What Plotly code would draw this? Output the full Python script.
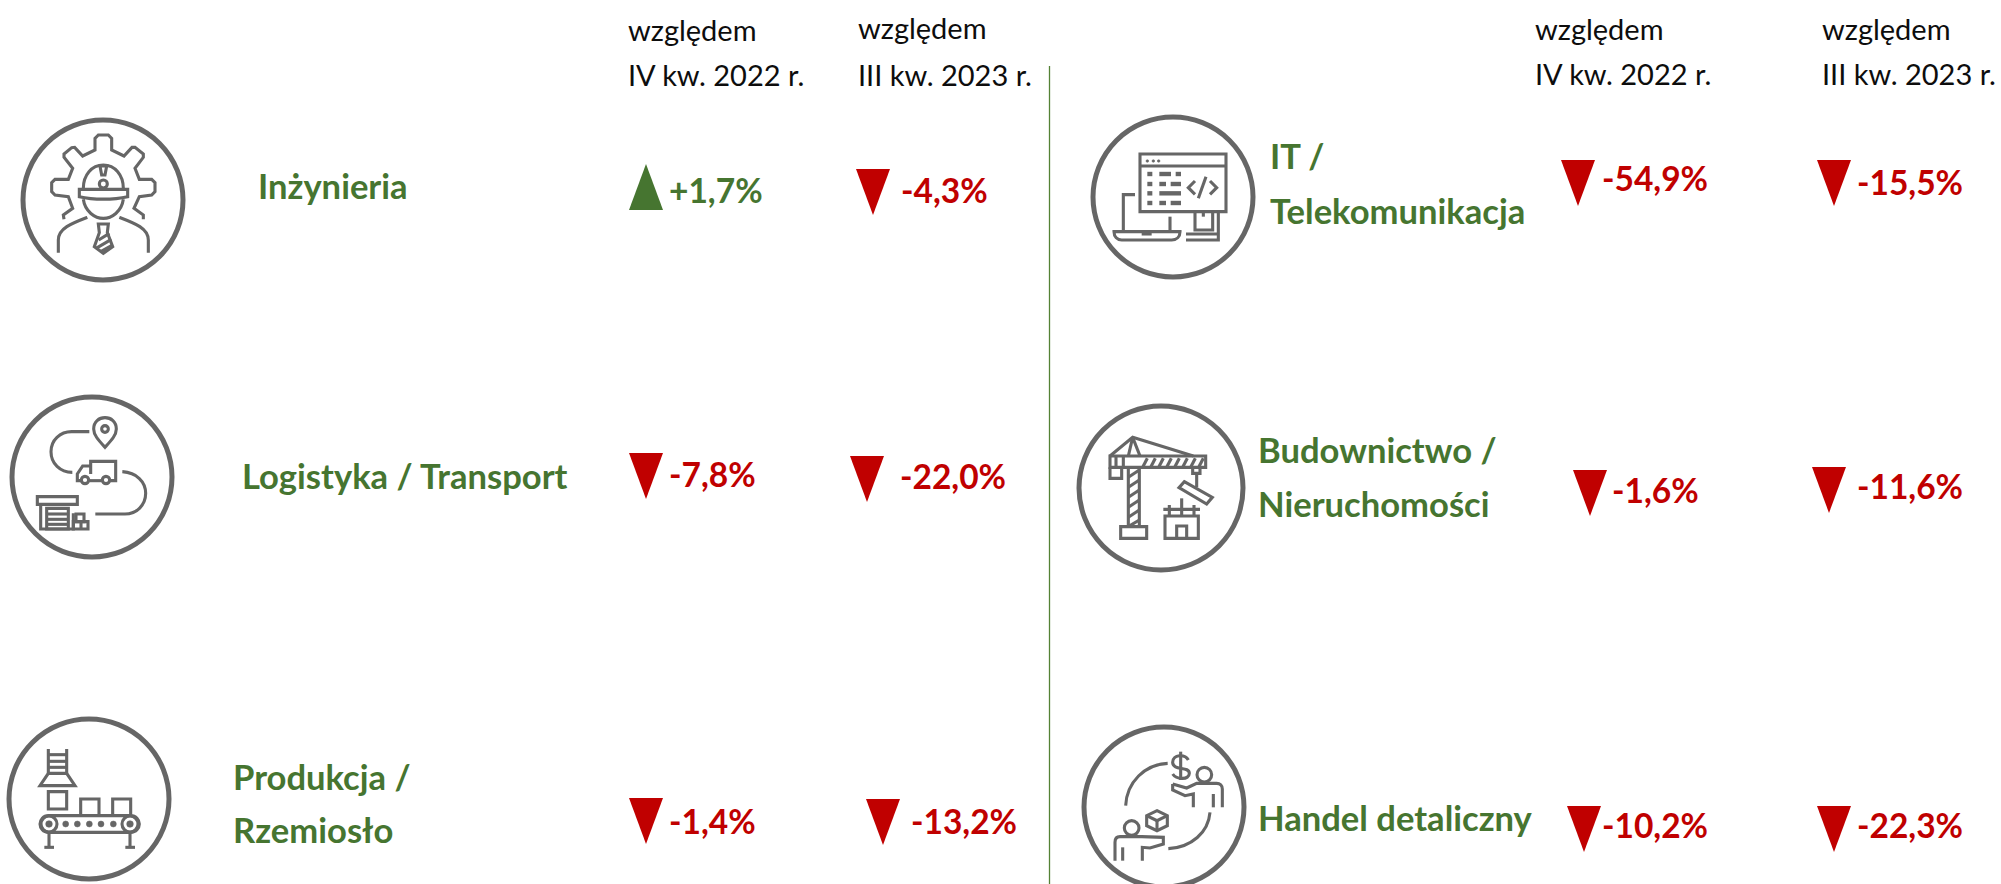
import re
import plotly.graph_objects as go

# ---- data ----
CATEGORIES_LEFT = [["Inżynieria"], ["Logistyka / Transport"], ["Produkcja /", "Rzemiosło"]]
CATEGORIES_RIGHT = [["IT /", "Telekomunikacja"], ["Budownictwo /", "Nieruchomości"], ["Handel detaliczny"]]
HEADER_LINE_1 = "względem"
HEADER_Q4 = "IV kw. 2022 r."
HEADER_Q3 = "III kw. 2023 r."
LEFT_VS_Q4 = [1.7, -7.8, -1.4]
LEFT_VS_Q3 = [-4.3, -22.0, -13.2]
RIGHT_VS_Q4 = [-54.9, -1.6, -10.2]
RIGHT_VS_Q3 = [-15.5, -11.6, -22.3]

# ---- styles ----
GREEN = "#467530"
RED = "#C00000"
GREY = "#666666"
BLACK = "#0d0d0d"
FONT = "Lato"
HEAD_SIZE = 29
VAL_SIZE = 33.5
CAT_SIZE = 34.6
ICON_W = 3.1
RING_W = 5

# ---- layout positions (page pixels) ----
HEADER_X = [628, 858, 1535, 1822]
HEADER_Y = [(29, 74), (27, 74), (28, 73), (28, 73)]
# triangle left, triangle top, label left, label centre-y
POS_L4 = [(629, 164, 669, 190), (629, 453, 669, 474), (629, 798, 669, 821)]
POS_L3 = [(856, 169, 901, 190), (850, 456, 900, 476), (866, 799, 911, 821)]
POS_R4 = [(1561, 160, 1602, 178), (1573, 470, 1612, 490), (1567, 806, 1602, 825)]
POS_R3 = [(1817, 160, 1857, 182), (1812, 467, 1857, 486), (1817, 806, 1857, 825)]
TRI_W, TRI_H = 34, 46
CAT_POS_L = [(258, [185]), (242, [475]), (233, [776, 829])]
CAT_POS_R = [(1270, [155, 210]), (1258, [449, 503]), (1258, [817])]

shapes, annotations = [], []


def text(x, y, s, size, color, bold=False):
    annotations.append(dict(
        x=x, y=y, xref="x", yref="y", text=f"<b>{s}</b>" if bold else s, showarrow=False,
        xanchor="left", yanchor="middle", align="left", borderpad=0, borderwidth=0,
        font=dict(family=FONT, size=size, color=color)))


def fmt(v):
    s = f"{abs(v):.1f}%".replace(".", ",")
    return ("+" if v > 0 else "-") + s


def indicator(v, pos):
    tx, ty, lx, ly = pos
    if v > 0:
        p = f"M {tx},{ty+TRI_H} L {tx+TRI_W},{ty+TRI_H} L {tx+TRI_W/2},{ty} Z"
    else:
        p = f"M {tx},{ty} L {tx+TRI_W},{ty} L {tx+TRI_W/2},{ty+TRI_H} Z"
    c = GREEN if v > 0 else RED
    shapes.append(dict(type="path", path=p, xref="x", yref="y", fillcolor=c, line=dict(width=0)))
    text(lx, ly, fmt(v), VAL_SIZE, c, True)


def tr(path, ox, oy):
    # icon sketches are written in units of 1/3 pixel relative to (ox, oy)
    return re.sub(r"(-?[\d.]+),(-?[\d.]+)",
                  lambda m: f"{ox+float(m[1])/3:.2f},{oy+float(m[2])/3:.2f}", path)


def circle(cx, cy, r, width=ICON_W, fill=None):
    shapes.append(dict(type="circle", xref="x", yref="y", x0=cx-r, x1=cx+r, y0=cy-r, y1=cy+r,
                       fillcolor=fill or "rgba(0,0,0,0)",
                       line=dict(color=GREY, width=width)))


def icon(ox, oy, ring, paths, circles=(), dots=(), thick=()):
    circle(ring[0], ring[1], ring[2], RING_W)
    for p in paths:
        shapes.append(dict(type="path", path=tr(p, ox, oy), xref="x", yref="y",
                           line=dict(color=GREY, width=ICON_W)))
    for p in thick:
        shapes.append(dict(type="path", path=tr(p, ox, oy), xref="x", yref="y",
                           line=dict(color=GREY, width=4.4)))
    for (x, y, r) in circles:
        circle(ox+x/3, oy+y/3, r/3)
    for (x, y, r) in dots:
        circle(ox+x/3, oy+y/3, r/3, 0.5, GREY)


# engineer
icon(0, 100, (103, 200, 80), [
    "M 192,358 L 190,345 L 218,325 L 205,290 L 165,285 L 155,275 L 155,248 L 165,238 L 205,238 L 218,205 "
    "L 192,172 L 192,162 L 215,143 L 224,142 L 248,168 L 285,150 L 285,115 L 295,105 L 325,105 L 335,115 "
    "L 335,150 L 372,168 L 396,142 L 405,142 L 430,162 L 430,172 L 405,205 L 418,238 L 455,238 L 465,248 "
    "L 465,275 L 455,285 L 418,290 L 402,325 L 430,345 L 430,358",
    "M 250,265 C 250,225 275,195 310,195 C 345,195 370,225 370,265",
    "M 238,290 L 238,268 L 383,268 L 383,290 C 340,300 280,300 238,290 Z",
    "M 300,198 L 320,198 L 315,225 L 305,225 Z",
    "M 250,298 C 255,335 285,355 310,355 C 335,355 365,335 370,298",
    "M 175,458 L 175,420 C 175,385 215,370 262,352",
    "M 445,458 L 445,420 C 445,385 405,370 358,352",
    "M 295,372 L 325,372 L 322,398 L 338,440 L 310,460 L 283,440 L 298,398 Z",
    "M 296,420 L 328,400", "M 288,445 L 334,418", "M 302,455 L 336,436",
], circles=[(310, 252, 12)])

# logistics
icon(0, 380, (92, 477, 80), [
    "M 315,202 C 295,180 281,165 281,147 C 281,125 297,113 315,113 C 333,113 349,125 349,147 C 349,165 335,180 315,202 Z",
    "M 268,155 L 215,155 C 180,155 153,180 153,215 C 153,250 180,277 217,277",
    "M 367,275 C 410,278 437,305 437,340 C 437,375 410,402 375,402 L 286,402",
    "M 272,282 L 272,244 L 347,244 L 347,302 L 330,302", "M 305,302 L 268,302",
    "M 272,258 L 248,258 L 232,282 L 232,302 L 243,302",
    "M 112,350 L 232,350 L 232,373 L 112,373 Z",
    "M 122,373 L 122,447 L 220,447 L 220,400",
    "M 140,385 L 205,385 L 205,447 L 140,447 Z",
    "M 140,402 L 205,402", "M 140,418 L 205,418", "M 140,433 L 205,433",
    "M 228,402 L 252,402 L 252,425 L 228,425 Z",
    "M 220,425 L 264,425 L 264,447 L 220,447 Z", "M 243,425 L 243,447",
], circles=[(315, 147, 10), (255, 300, 11), (318, 300, 11)])

# production
icon(0, 684, (89, 799, 80), [
    "M 145,195 L 145,268", "M 200,195 L 200,268",
    "M 145,212 L 200,212", "M 145,232 L 200,232", "M 145,250 L 200,250",
    "M 145,268 L 200,268 L 225,305 L 120,305 Z",
    "M 145,323 L 200,323 L 200,375 L 145,375 Z",
    "M 242,392 L 242,345 L 297,345 L 297,392",
    "M 338,392 L 338,345 L 392,345 L 392,392",
    "M 145,395 L 392,395 C 408,395 418,408 418,420 C 418,432 408,445 392,445 L 145,445 "
    "C 130,445 120,432 120,420 C 120,408 130,395 145,395 Z",
    "M 147,445 L 147,490", "M 390,445 L 390,490", "M 133,490 L 162,490", "M 376,490 L 405,490",
], circles=[(147, 420, 24), (390, 420, 24)],
    dots=[(147, 420, 10), (390, 420, 10), (197, 420, 9), (232, 420, 9), (268, 420, 9), (303, 420, 9), (340, 420, 9)])

# IT
icon(1060, 100, (1173, 197, 80), [
    "M 240,162 L 498,162 L 498,335 L 240,335 Z", "M 240,198 L 498,198",
    "M 405,243 L 385,263 L 405,283", "M 450,243 L 470,263 L 450,283", "M 438,230 L 415,295",
    "M 225,284 L 190,284 L 190,395", "M 330,350 L 330,395",
    "M 162,395 L 360,395 C 360,410 350,420 335,420 L 185,420 C 172,420 162,410 162,395 Z",
    "M 405,335 L 405,390 L 458,390 L 458,335", "M 430,335 L 430,350",
    "M 475,335 L 475,420 L 378,420", "M 378,402 L 475,402",
], dots=[(262, 183, 4), (280, 183, 4), (296, 183, 4)], thick=[
    "M 262,222 L 277,222", "M 298,222 L 333,222", "M 347,222 L 363,222",
    "M 262,252 L 277,252", "M 298,252 L 318,252", "M 332,252 L 363,252",
    "M 262,280 L 277,280", "M 298,280 L 363,280",
    "M 262,309 L 277,309", "M 298,309 L 318,309", "M 332,309 L 363,309",
    "M 245,400 L 275,400",
])

# construction
icon(1060, 390, (1161, 488, 82), [
    "M 205,232 L 205,410", "M 238,232 L 238,410",
    "M 205,262 L 238,240", "M 205,292 L 238,270", "M 205,322 L 238,300",
    "M 205,352 L 238,330", "M 205,382 L 238,360", "M 205,410 L 238,390",
    "M 182,410 L 260,410 L 260,445 L 182,445 Z",
    "M 150,198 L 437,198 L 437,232 L 150,232 Z",
    "M 150,232 L 150,265 L 185,265 L 185,232", "M 168,198 L 168,232", "M 190,198 L 190,232",
    "M 248,232 L 262,205", "M 272,232 L 286,205", "M 296,232 L 310,205", "M 320,232 L 334,205",
    "M 344,232 L 358,205", "M 368,232 L 382,205", "M 392,232 L 406,205", "M 416,232 L 430,205",
    "M 150,198 L 218,142 L 400,198", "M 218,142 L 205,198", "M 218,142 L 240,198",
    "M 398,232 L 398,250 L 420,250 L 420,232", "M 410,250 L 410,292",
    "M 373,275 L 457,322 L 440,342 L 357,293 Z",
    "M 315,378 L 415,378 L 415,445 L 315,445 Z", "M 350,445 L 350,408 L 380,408 L 380,445",
    "M 310,358 L 420,358", "M 328,345 L 328,378", "M 365,325 L 365,378", "M 402,345 L 402,378",
])

# retail
icon(1060, 684, (1164, 807, 80), [
    "M 323,238 C 255,240 200,295 197,365", "M 450,385 C 445,445 395,490 325,494",
    "M 385,228 C 375,210 338,210 338,235 C 338,262 388,245 388,268 C 388,288 350,288 338,270",
    "M 362,203 L 362,288",
    "M 338,300 L 380,312 L 410,298 L 470,298 C 480,298 487,305 487,315 L 487,370",
    "M 338,300 L 338,318 L 375,335 L 400,330 L 400,370", "M 460,330 L 460,370",
    "M 165,530 L 165,475 C 165,465 170,458 180,458 L 245,458 L 310,460 L 310,480 L 270,492 L 247,490 L 247,530",
    "M 188,490 L 188,530",
    "M 291,380 L 322,395 L 322,425 L 291,440 L 260,425 L 260,395 Z",
    "M 260,395 L 291,410 L 322,395", "M 291,410 L 291,440",
], circles=[(433, 272, 22), (215, 432, 22)])

# divider
shapes.append(dict(type="line", xref="x", yref="y", x0=1049.5, x1=1049.5, y0=66, y1=884,
                   line=dict(color="#548235", width=1.3)))

# headers
for x, (y1, y2), h in zip(HEADER_X, HEADER_Y, [HEADER_Q4, HEADER_Q3, HEADER_Q4, HEADER_Q3]):
    text(x, y1, HEADER_LINE_1, HEAD_SIZE, BLACK)
    text(x, y2, h, HEAD_SIZE, BLACK)

# indicators
for vals, poss in [(LEFT_VS_Q4, POS_L4), (LEFT_VS_Q3, POS_L3), (RIGHT_VS_Q4, POS_R4), (RIGHT_VS_Q3, POS_R3)]:
    for v, p in zip(vals, poss):
        indicator(v, p)

# categories
for cats, poss in [(CATEGORIES_LEFT, CAT_POS_L), (CATEGORIES_RIGHT, CAT_POS_R)]:
    for lines, (x, ys) in zip(cats, poss):
        for s, y in zip(lines, ys):
            text(x, y, s, CAT_SIZE, GREEN, True)

fig = go.Figure()
fig.update_layout(
    width=2001, height=884, margin=dict(l=0, r=0, t=0, b=0),
    paper_bgcolor="white", plot_bgcolor="white", showlegend=False,
    xaxis=dict(range=[0, 2001], visible=False, fixedrange=True),
    yaxis=dict(range=[884, 0], visible=False, fixedrange=True),
    shapes=shapes, annotations=annotations,
)
fig.write_html("out.html", config={"displayModeBar": False},
               post_script="document.body.style.margin='0';document.body.style.overflow='hidden';")
